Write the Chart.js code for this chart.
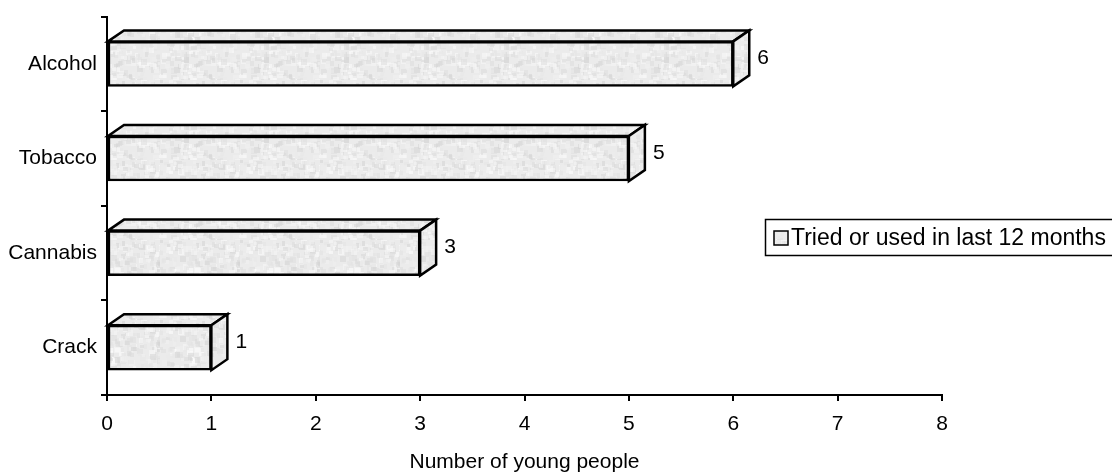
<!DOCTYPE html>
<html>
<head>
<meta charset="utf-8">
<script src="https://cdn.jsdelivr.net/npm/chart.js@4/dist/chart.umd.min.js"></script>
<style>
  html, body { margin: 0; padding: 0; background: #fff; }
  #wrap { width: 1112px; height: 475px; }
</style>
</head>
<body>
<div id="wrap"><canvas id="grafico" width="1112" height="475"></canvas></div>
<script>
// Datos
const categorias = ['Alcohol', 'Tobacco', 'Cannabis', 'Crack'];
const valores = [6, 5, 3, 1];
const ticksX = [0, 1, 2, 3, 4, 5, 6, 7, 8];
const nombreSerie = 'Tried or used in last 12 months';
const tituloX = 'Number of young people';

const FUENTE = '"Liberation Sans", Arial, sans-serif';
const DX = 16, DY = 11; // profundidad del efecto 3D

const canvas = document.getElementById('grafico');
const ctx = canvas.getContext('2d');

// textura gris moteada (determinista)
function hacerTextura() {
    const c = document.createElement('canvas');
    c.width = 80; c.height = 80;
    const g = c.getContext('2d');
    g.fillStyle = '#ebebeb';
    g.fillRect(0, 0, 80, 80);
    const frac = v => v - Math.floor(v);
    for (let i = 0; i < 420; i++) {
        const a = frac(Math.sin(i * 12.9898) * 43758.5453);
        const b = frac(Math.sin(i * 78.233) * 43758.5453);
        const t = frac(Math.sin(i * 39.425) * 43758.5453);
        const gris = Math.round(212 + t * 43);
        g.globalAlpha = 0.55;
        g.fillStyle = `rgb(${gris},${gris},${gris})`;
        g.fillRect(Math.floor(a * 80), Math.floor(b * 80), 3 + (i % 4), 3 + ((i >> 1) % 4));
    }
    return ctx.createPattern(c, 'repeat');
}
const textura = hacerTextura();

// caras superior y lateral + etiquetas de valor
const cubo = {
    id: 'cubo',
    afterDatasetsDraw(chart) {
        const c = chart.ctx;
        const meta = chart.getDatasetMeta(0);
        meta.data.forEach((bar, i) => {
            const p = bar.getProps(['x', 'y', 'base', 'height'], true);
            const top = p.y - p.height / 2;
            const bottom = p.y + p.height / 2;
            c.save();
            c.fillStyle = textura;
            c.strokeStyle = '#000';
            c.lineWidth = 2.5;
            c.lineJoin = 'miter';
            c.beginPath();
            c.moveTo(p.base, top);
            c.lineTo(p.base + DX, top - DY);
            c.lineTo(p.x + DX, top - DY);
            c.lineTo(p.x, top);
            c.closePath();
            c.fill(); c.stroke();
            c.beginPath();
            c.moveTo(p.x, top);
            c.lineTo(p.x + DX, top - DY);
            c.lineTo(p.x + DX, bottom - DY);
            c.lineTo(p.x, bottom);
            c.closePath();
            c.fill(); c.stroke();
            c.fillStyle = '#000';
            c.font = '21px ' + FUENTE;
            c.textAlign = 'left';
            c.textBaseline = 'middle';
            c.fillText(String(chart.data.datasets[0].data[i]), p.x + DX + 8, p.y - DY / 2);
            c.restore();
        });
    }
};

// leyenda con recuadro
const leyenda = {
    id: 'leyenda',
    afterDraw(chart) {
        const c = chart.ctx;
        c.save();
        c.strokeStyle = '#000';
        c.lineWidth = 1.5;
        c.strokeRect(765.5, 219.5, 360, 36);
        c.fillStyle = textura;
        c.fillRect(774, 231, 14, 14);
        c.lineWidth = 1.5;
        c.strokeRect(774, 231, 14, 14);
        c.fillStyle = '#000';
        c.font = '23px ' + FUENTE;
        c.textAlign = 'left';
        c.textBaseline = 'middle';
        c.fillText(chart.data.datasets[0].label, 791, 239);
        c.restore();
    }
};

new Chart(ctx, {
    type: 'bar',
    data: {
        labels: categorias,
        datasets: [{
            label: nombreSerie,
            data: valores,
            backgroundColor: textura,
            borderColor: '#000',
            borderWidth: 2.5,
            borderSkipped: false,
            barThickness: 45
        }]
    },
    options: {
        indexAxis: 'y',
        responsive: false,
        animation: false,
        devicePixelRatio: 1,
        layout: { padding: { top: 13, right: 170, left: 0, bottom: 0 } },
        plugins: {
            legend: { display: false },
            tooltip: { enabled: false }
        },
        scales: {
            x: {
                min: 0,
                max: 8,
                afterBuildTicks: s => { s.ticks = ticksX.map(v => ({ value: v })); },
                afterFit: s => { s.height = 80; },
                ticks: { color: '#000', padding: 11, font: { size: 21, family: FUENTE } },
                grid: { drawOnChartArea: false, drawTicks: true, tickLength: 6, color: '#000', lineWidth: 2 },
                border: { display: true, color: '#000', width: 2 },
                title: { display: true, text: tituloX, color: '#000', padding: 0, font: { size: 21, family: FUENTE } }
            },
            y: {
                afterFit: s => { s.width = 107; },
                ticks: { color: '#000', padding: 4, font: { size: 21, family: FUENTE } },
                grid: { drawOnChartArea: false, drawTicks: true, tickLength: 6, color: '#000', lineWidth: 2, offset: true },
                border: { display: true, color: '#000', width: 2 }
            }
        }
    },
    plugins: [cubo, leyenda]
});
</script>
</body>
</html>
